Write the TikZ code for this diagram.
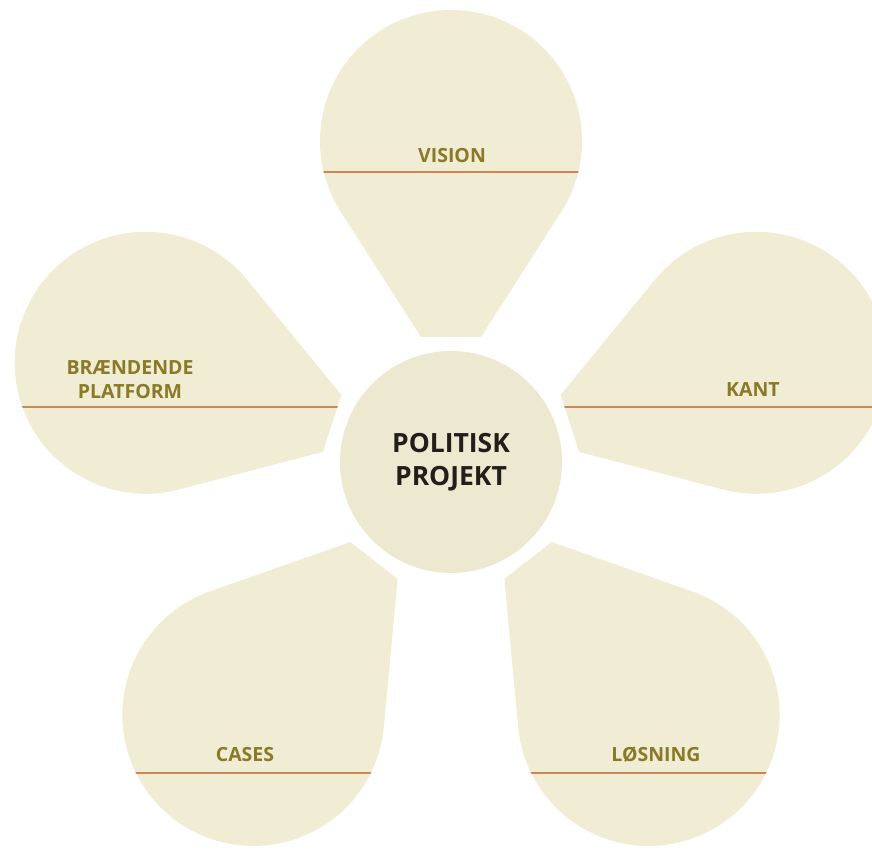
\documentclass[tikz,border=0pt]{standalone}
\usepackage{fontspec}
\setsansfont{Open Sans}
\definecolor{cream}{RGB}{241,236,212}
\definecolor{heart}{RGB}{237,232,208}
\definecolor{olive}{RGB}{136,122,38}
\definecolor{rust}{RGB}{208,132,82}
\definecolor{ink}{RGB}{34,30,26}

\tikzset{
  petal/.style={shift={(451,388)}, rotate=#1,
    insert path={(125,30) -- ([shift={(321,0)}]122.6:131) arc[start angle=122.6, end angle=-122.6, radius=131pt] -- (125,-30) -- cycle}},
  rule/.style={draw=rust, line width=2.4pt},
  lab/.style={font=\sffamily\bfseries\fontsize{19.5}{24}\selectfont, text=olive, align=center, inner sep=0pt}
}

\begin{document}
\begin{tikzpicture}[x=1pt, y=1pt]
\useasboundingbox (0,0) rectangle (872,850);

% petals
\fill[cream, petal=90];
\fill[cream, petal=162];
\fill[cream, petal=18];
\fill[cream, petal=232];
\fill[cream, petal=308];

% rules across the petals
\begin{scope}
  \clip[petal=90];
  \draw[rule] (0,678) -- (872,678);
\end{scope}
\begin{scope}
  \clip[petal=162];
  \draw[rule] (0,443) -- (872,443);
\end{scope}
\begin{scope}
  \clip[petal=18];
  \draw[rule] (0,443) -- (872,443);
\end{scope}
\begin{scope}
  \clip[petal=232];
  \draw[rule] (0,77) -- (872,77);
\end{scope}
\begin{scope}
  \clip[petal=308];
  \draw[rule] (0,77) -- (872,77);
\end{scope}

\node (pp) [circle, fill=heart, minimum size=222pt, inner sep=0pt, align=center, text=ink, font=\sffamily\bfseries\fontsize{26.5}{33}\selectfont] at (451,388) {POLITISK\\PROJEKT};

\node (vision) [lab, anchor=base] at (452,687) {VISION};
\node (platform) [lab] at (130,470) {BRÆNDENDE\\PLATFORM};
\node (kant) [lab, anchor=base] at (753,453) {KANT};
\node (cases) [lab, anchor=base] at (245,88) {CASES};
\node (losning) [lab, anchor=base] at (656,88) {LØSNING};

\end{tikzpicture}
\end{document}
